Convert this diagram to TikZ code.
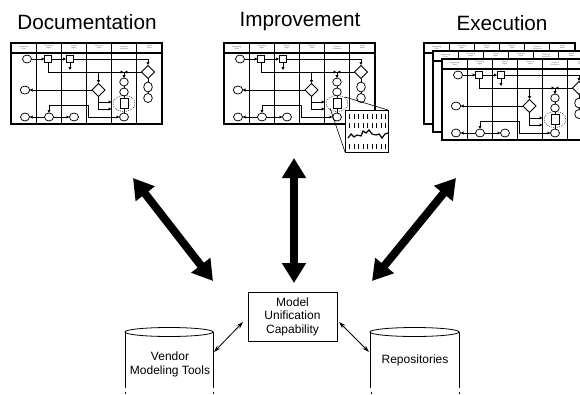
\documentclass[tikz,border=0pt]{standalone}
\usepackage{fontspec}
\setmainfont{Liberation Sans}
\usetikzlibrary{arrows.meta}

\tikzset{
  frame/.style={line width=1.3pt},
  lanediv/.style={line width=0.9pt},
  mini/.style={line width=0.75pt, fill=white},
  arr/.style={line width=0.7pt, -{Triangle[length=2.8pt,width=2.8pt]}},
  link/.style={line width=0.7pt},
  hdr/.style={font=\fontsize{1.8}{2}\selectfont, align=center, text=black!70, inner sep=0pt},
  title/.style={font=\fontsize{20.7}{24}\selectfont, inner sep=0pt},
  bigarrow/.style={line width=8pt, {Triangle[length=20pt,width=23pt]}-{Triangle[length=20pt,width=23pt]}},
  smallarrow/.style={line width=0.8pt, {Stealth[length=7pt,width=4.5pt]}-{Stealth[length=7pt,width=4.5pt]}},
  body/.style={font=\fontsize{12}{13.5}\selectfont, align=center, inner sep=0pt},
  cyl/.style={line width=0.8pt},
}

% A small swim-lane process chart, 151 x 81, top-left corner at (#1,#2)
\newcommand{\lanechart}[2]{%
\begin{scope}[shift={(#1,#2)}]
  \fill[white] (0,0) rectangle (151,81);
  \foreach \k in {1,...,5} \draw[lanediv] ({25.17*\k},0) -- ({25.17*\k},81);
  \draw[lanediv] (0,9) -- (151,9);
  \draw[line width=0.4pt] (0,10.3) -- (151,10.3);
  \foreach \k/\t in {0/{Requesting\\Team}, 1/{Producing\\Mgmt}, 2/{Current\\Mgmt},
                     3/{Business\\Mgmt}, 4/{External\\Resources}, 5/{Senior\\Mgmt}}
    \node[hdr] at ({25.17*\k+12.6},4.5) {\t};
  % flow lines
  \draw[arr] (20.5,16) -- (33.5,16);
  \draw[arr] (40.5,16) -- (55,16);
  \draw[arr] (63,16) -- (137,16) -- (137,22);
  \draw[arr] (59,19.5) -- (59,27);
  \draw[link] (37,19.5) -- (37,29) -- (130.5,29);
  \draw[arr] (104,29) -- (112.4,29);
  \draw[arr] (122,29) -- (113.6,29);
  \draw[arr] (113,29) -- (113,35);
  \draw[arr] (87.5,29) -- (87.5,40);
  \draw[arr] (81,47) -- (18.7,47);
  \draw[arr] (87.5,53.5) -- (87.5,66) -- (100.5,66);
  \draw[arr] (87.5,59) -- (100.5,59);
  \draw[arr] (77,62) -- (38,62) -- (38,69.8);
  \draw[arr] (77,62) -- (77,74) -- (108.3,74);
  \draw[arr] (33.3,74) -- (18.7,74);
  \draw[arr] (42.7,74) -- (58.3,74);
  \draw[link] (113,43) -- (113,45);
  \draw[link] (113,53) -- (113,55.5);
  \draw[link] (113,65.5) -- (113,70);
  \draw[link] (137,36) -- (137,39);
  \draw[link] (137,49) -- (137,50.5);
  % activities, decisions and events
  \draw[mini] (16,16) ellipse [x radius=4.5, y radius=4];
  \draw[mini] (33.5,12.3) rectangle (40.7,19.7);
  \draw[mini] (55.3,12.3) rectangle (62.7,19.7);
  \draw[mini] (137,22.5) -- (143.5,29) -- (137,35.5) -- (130.5,29) -- cycle;
  \draw[mini] (87.5,40.5) -- (94,47) -- (87.5,53.5) -- (81,47) -- cycle;
  \draw[mini] (14,47) ellipse [x radius=4.7, y radius=4];
  \draw[mini] (113,39) ellipse [x radius=4.3, y radius=4];
  \draw[mini] (113,49) ellipse [x radius=4.3, y radius=4];
  \draw[mini] (109,55.5) rectangle (117,65.5);
  \draw[line width=0.45pt, dash pattern=on 1pt off 1pt] (113,60.5) ellipse [x radius=11, y radius=8];
  \draw[mini] (113,74) ellipse [x radius=4.5, y radius=4];
  \draw[mini] (137,44) ellipse [x radius=4.3, y radius=5];
  \draw[mini] (137,55) ellipse [x radius=4.3, y radius=4.5];
  \draw[mini] (14,74) ellipse [x radius=4.5, y radius=4];
  \draw[mini] (38,74) ellipse [x radius=4.5, y radius=4];
  \draw[mini] (63,74) ellipse [x radius=4.5, y radius=4];
  \draw[frame] (0,0) rectangle (151,81);
\end{scope}}

\begin{document}
\begin{tikzpicture}[x=1pt, y=-1pt]
  \useasboundingbox (0,0) rectangle (580,394);
  \clip (0,0) rectangle (580,394);

  % titles
  \node[title] (doc) at (87,22) {Documentation};
  \node[title] (imp) at (300,22) {Improvement};
  \node[title] (exe) at (502,23) {Execution};

  % documentation chart
  \lanechart{11}{43}

  % improvement chart with magnified detail
  \lanechart{224}{43}
  \draw[line width=0.6pt] (345,97) -- (388,110);
  \draw[line width=0.6pt] (330,108) -- (345,152);
  \begin{scope}
    \draw[line width=0.9pt, fill=white] (345,110) rectangle (388,152);
    \foreach \k in {0,...,8} {
      \draw[line width=0.6pt] ({349.5+4.5*\k},114) -- ({349.5+4.5*\k},119);
      \draw[line width=0.6pt] ({349.5+4.5*\k},123) -- ({349.5+4.5*\k},128);
      \draw[line width=0.6pt] ({349.5+4.5*\k},144) -- ({349.5+4.5*\k},149);
    }
    \draw[line width=1.2pt] (348,138) -- (351,134) -- (354,137) -- (357,135) -- (361,136)
      -- (363,131) -- (366,133) -- (369,130) -- (372,134) -- (376,135) -- (379,134)
      -- (382,138) -- (385,134) -- (388,133);
  \end{scope}

  % execution: a stack of running charts
  \lanechart{424}{43}
  \lanechart{433}{51}
  \lanechart{442}{59}

  % unification box and stores
  \node[draw, line width=0.8pt, minimum width=89pt, minimum height=49pt, body] (muc)
    at (292.5,316.5) {Model\\Unification\\Capability};

  \draw[cyl] (125,332) -- (125,388);
  \draw[cyl] (213,332) -- (213,388);
  \draw[cyl] (169,332) ellipse [x radius=44, y radius=4.5];
  \draw[cyl] (125.5,391.5) -- (125.5,394);
  \draw[cyl] (213,391.5) -- (213,394);
  \node[body] (vmt) at (170,364.5) {Vendor\\Modeling Tools};

  \draw[cyl] (370,332) -- (370,388);
  \draw[cyl] (459,332) -- (459,388);
  \draw[cyl] (414.5,332) ellipse [x radius=44.5, y radius=4.5];
  \draw[cyl] (371,391.5) -- (371,394);
  \draw[cyl] (459,391.5) -- (459,394);
  \node[body] (rep) at (415,360) {Repositories};

  % connector end points
  \coordinate (docend) at (133,178);
  \coordinate (impend) at (294,158);
  \coordinate (exeend) at (456,178);
  \coordinate (mucdoc) at (213,281);
  \coordinate (mucimp) at (294,283);
  \coordinate (mucexe) at (372,281);
  \coordinate (vmtend) at (214,352);
  \coordinate (mucvmt) at (243,322);
  \coordinate (mucrep) at (339,322);
  \coordinate (repend) at (369,352);

  \draw[bigarrow] (docend) -- (mucdoc);
  \draw[bigarrow] (impend) -- (mucimp);
  \draw[bigarrow] (exeend) -- (mucexe);

  \draw[smallarrow] (vmtend) -- (mucvmt);
  \draw[smallarrow] (mucrep) -- (repend);
\end{tikzpicture}
\end{document}
